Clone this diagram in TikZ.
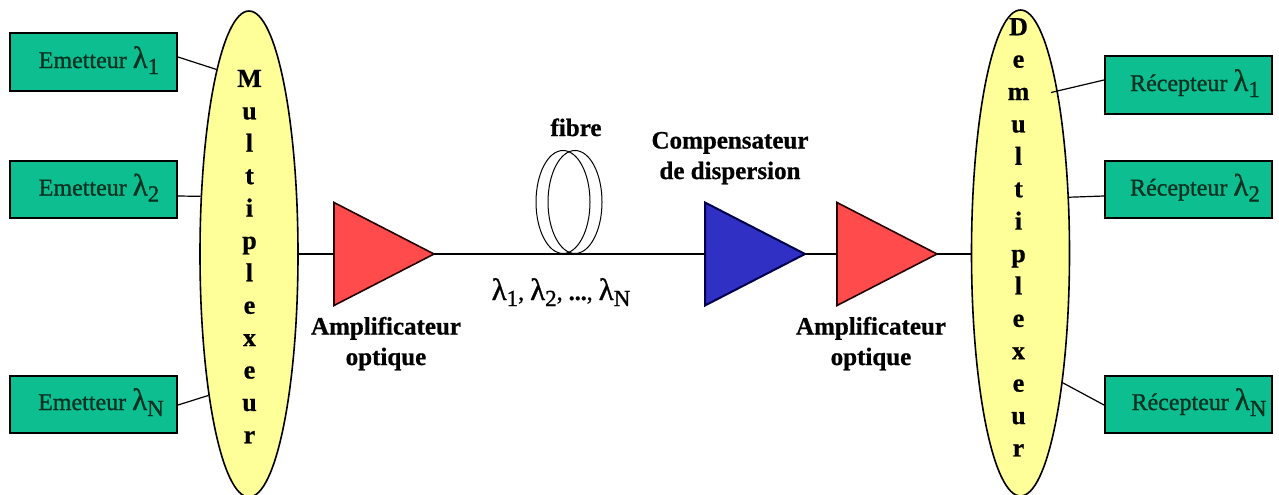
\documentclass[tikz,border=0pt]{standalone}
\usepackage{fontspec}
\setmainfont{Liberation Serif}
\newfontfamily\heavyfont[FakeBold=1]{Liberation Serif}
\newfontfamily\boldheavy[FakeBold=0.8]{Liberation Serif Bold}
\usetikzlibrary{shapes.geometric,calc}
\definecolor{boxgreen}{HTML}{0CBE90}
\definecolor{boxink}{HTML}{06301F}
\definecolor{muxyellow}{HTML}{FFFF99}
\definecolor{ampred}{HTML}{FF4B4B}
\definecolor{compblue}{HTML}{3030C4}
\newcommand{\lamsub}[2][23]{{\fontsize{31}{31}\selectfont λ}\raisebox{-6pt}{\fontsize{#1}{#1}\selectfont #2}}
\tikzset{
  chan/.style={draw=black,line width=2pt,fill=boxgreen,minimum width=167pt,minimum height=57pt,inner sep=0pt,
    text=boxink,text height=12pt,text depth=0pt,font=\fontsize{24}{24}\heavyfont},
  muxel/.style={draw=black,line width=1.6pt,fill=muxyellow,ellipse,minimum width=98pt,minimum height=486pt,inner sep=0pt},
  amp/.style={isosceles triangle,isosceles triangle stretches,shape border rotate=0,minimum height=100pt,minimum width=103pt,
    inner sep=0pt,outer sep=0pt,line width=1.6pt,draw=black!85!red,fill=ampred,anchor=lower side},
  comp/.style={amp,draw=black!70!blue,line width=2pt,fill=compblue},
  letters/.style={inner sep=0pt,align=center,anchor=north,font=\fontsize{26}{32.4}\boldheavy},
  caption/.style={inner sep=0pt,align=center,anchor=base,font=\fontsize{25}{30.5}\boldheavy},
  wire/.style={draw=black,line width=1.2pt},
  loopfib/.style={draw=black,line width=1pt,ellipse,minimum width=54pt,minimum height=103pt,inner sep=0pt}
}
\begin{document}
\begin{tikzpicture}[x=1pt,y=-1pt]
\useasboundingbox (0,0) rectangle (1279,495);
% channel boxes
\node[chan] (em1) at (93.5,62) {\hspace*{11pt}Emetteur \lamsub{1}};
\node[chan] (em2) at (93.5,189.5) {\hspace*{11pt}Emetteur \lamsub{2}};
\node[chan] (emN) at (93.5,404) {\hspace*{15pt}Emetteur \lamsub{N}};
\node[chan] (re1) at (1188.5,85) {\hspace*{13pt}Récepteur \lamsub{1}};
\node[chan] (re2) at (1188.5,189.5) {\hspace*{13pt}Récepteur \lamsub{2}};
\node[chan] (reN) at (1188.5,404) {\hspace*{21pt}Récepteur \lamsub{N}};
% multiplexers
\node[muxel] (mux) at (249,254) {};
\node[muxel] (demux) at (1020.5,253) {};
\node[letters] (muxt) at (249.5,69.7) {M\\u\\l\\t\\i\\p\\l\\e\\x\\e\\u\\r};
\node[letters] (demuxt) at (1018.5,18) {D\\e\\m\\u\\l\\t\\i\\p\\l\\e\\x\\e\\u\\r};
% amplifiers
\node[amp] (a1) at (334,254) {};
\node[comp] (c1) at (705,254) {};
\node[amp] (a2) at (837,254) {};
% fibre loop
\node[loopfib] (f1) at (563,202) {};
\node[loopfib] (f2) at (575,202) {};
% connectors
\coordinate (reoneend) at (1051,92.5);
\draw[wire] ([yshift=5pt]em1.east) -- (mux.100.5);
\draw[wire] ([yshift=-6.5pt]em2.east) -- (mux.130.6);
\draw[wire] ([yshift=-1pt]emN.east) -- (mux.254);
\draw[wire] ([yshift=5pt]re1.west) -- (reoneend);
\draw[wire] ([yshift=-6.5pt]re2.west) -- (demux.49.3);
\draw[wire] ([yshift=-1pt]reN.west) -- (demux.-72);
\draw[wire] (mux.east) -- (a1.lower side);
\draw[wire] (a1.apex) -- (c1.lower side);
\draw[wire] (c1.apex) -- (a2.lower side);
\draw[wire] (a2.apex) -- (a2.apex -| demux.west);
% captions
\node[caption] (cfib) at (576,136) {fibre};
\node[caption] (ccomp) at (730,179) {Compensateur\\de dispersion};
\node[caption] (camp1) at (386,365) {Amplificateur\\optique};
\node[caption] (camp2) at (871,365) {Amplificateur\\optique};
\node[inner sep=0pt,anchor=base,font=\fontsize{24}{24}\heavyfont] (clam) at (561,300) {\lamsub{1}, \lamsub{2}, \textbf{...}, \lamsub{N}};
\end{tikzpicture}
\end{document}
